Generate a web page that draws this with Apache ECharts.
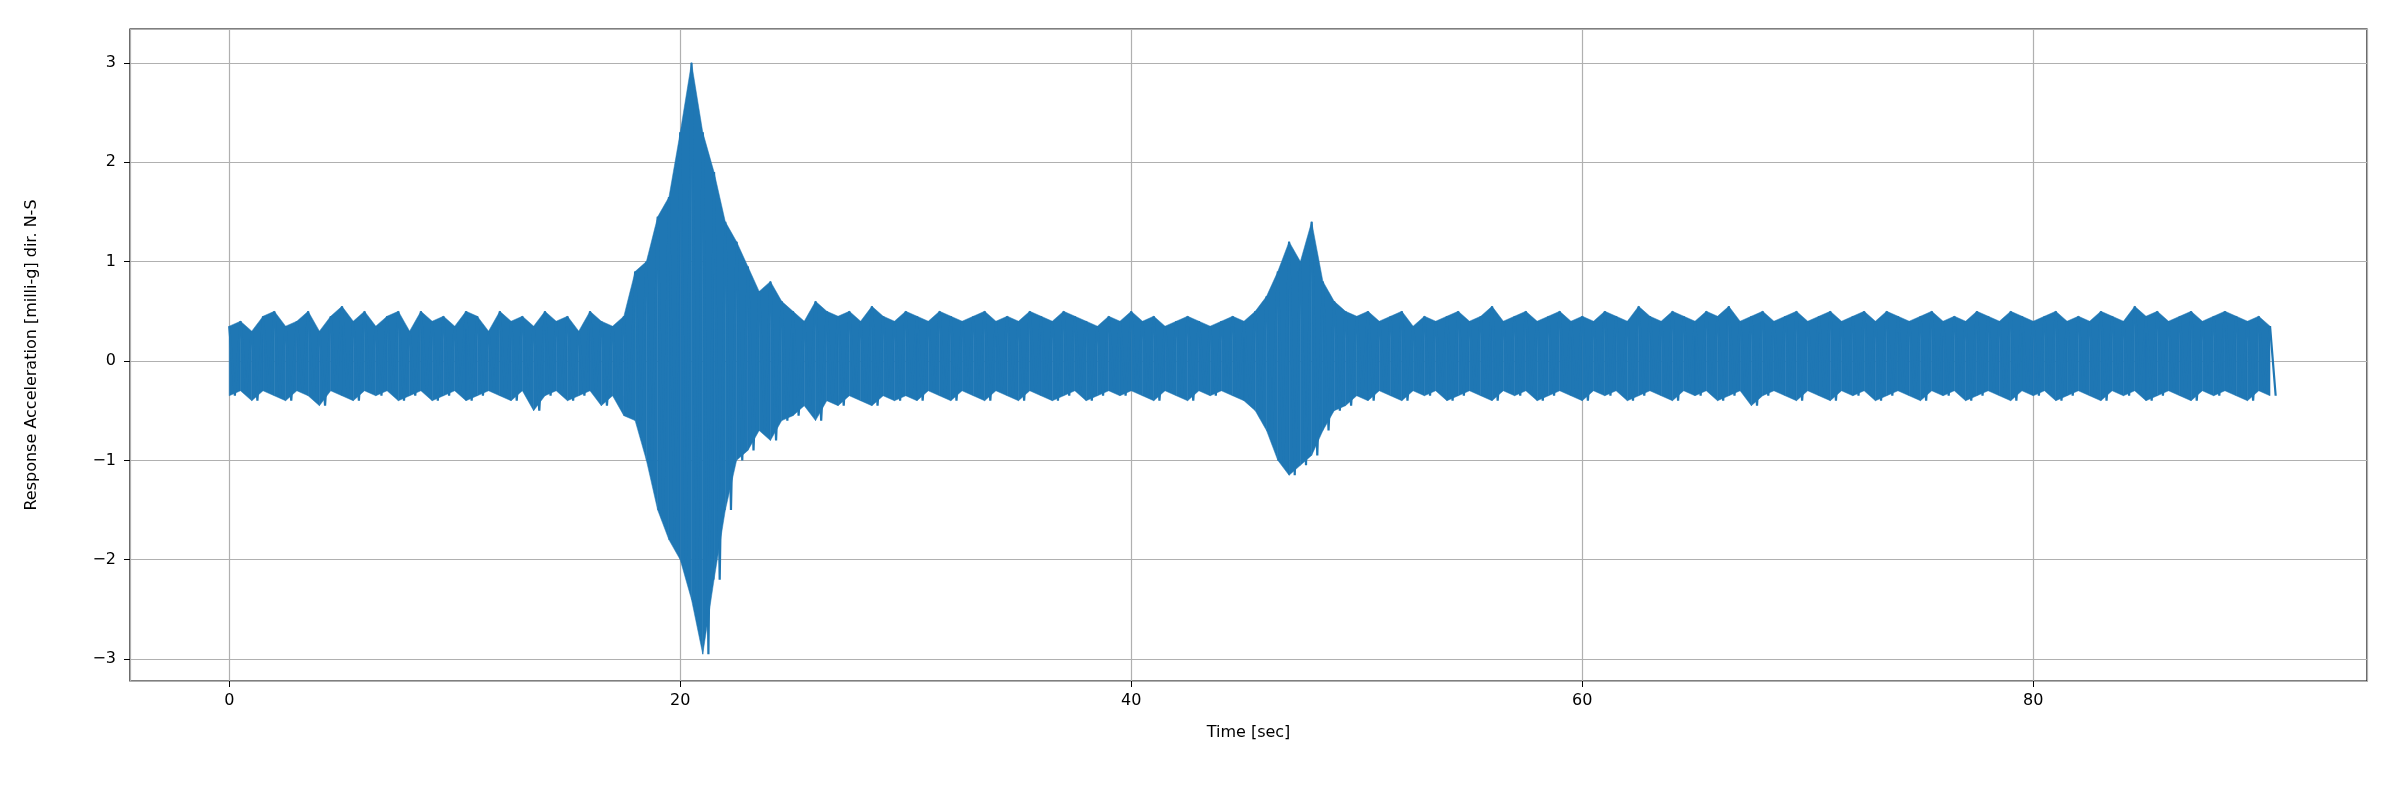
<!DOCTYPE html>
<html>
<head>
<meta charset="utf-8">
<script src="https://cdn.jsdelivr.net/npm/echarts@6/dist/echarts.min.js"></script>
<style>html,body{margin:0;padding:0;background:#fff}#main{width:2400px;height:800px}</style>
</head>
<body>
<div id="main"></div>
<script>
// envelope peaks, one pair every half second (0 .. 90.5 s)
var step = 0.5;
var peakTop = [
	0.35,0.4,0.3,0.45,0.5,0.35,0.4,0.5,0.3,0.45,
	0.55,0.4,0.5,0.35,0.45,0.5,0.3,0.5,0.4,0.45,
	0.35,0.5,0.45,0.3,0.5,0.4,0.45,0.35,0.5,0.4,
	0.45,0.3,0.5,0.4,0.35,0.45,0.9,1.0,1.45,1.65,
	2.3,3.0,2.3,1.9,1.4,1.2,0.95,0.7,0.8,0.6,
	0.5,0.4,0.6,0.5,0.45,0.5,0.4,0.55,0.45,0.4,
	0.5,0.45,0.4,0.5,0.45,0.4,0.45,0.5,0.4,0.45,
	0.4,0.5,0.45,0.4,0.5,0.45,0.4,0.35,0.45,0.4,
	0.5,0.4,0.45,0.35,0.4,0.45,0.4,0.35,0.4,0.45,
	0.4,0.5,0.65,0.9,1.2,1.0,1.4,0.8,0.6,0.5,
	0.45,0.5,0.4,0.45,0.5,0.35,0.45,0.4,0.45,0.5,
	0.4,0.45,0.55,0.4,0.45,0.5,0.4,0.45,0.5,0.4,
	0.45,0.4,0.5,0.45,0.4,0.55,0.45,0.4,0.5,0.45,
	0.4,0.5,0.45,0.55,0.4,0.45,0.5,0.4,0.45,0.5,
	0.4,0.45,0.5,0.4,0.45,0.5,0.4,0.5,0.45,0.4,
	0.45,0.5,0.4,0.45,0.4,0.5,0.45,0.4,0.5,0.45,
	0.4,0.45,0.5,0.4,0.45,0.4,0.5,0.45,0.4,0.55,
	0.45,0.5,0.4,0.45,0.5,0.4,0.45,0.5,0.45,0.4,
	0.45,0.35
];
var peakBottom = [
	-0.35,-0.3,-0.4,-0.3,-0.35,-0.4,-0.3,-0.35,-0.45,-0.3,
	-0.35,-0.4,-0.3,-0.35,-0.3,-0.4,-0.35,-0.3,-0.4,-0.35,
	-0.3,-0.4,-0.35,-0.3,-0.35,-0.4,-0.3,-0.5,-0.35,-0.3,
	-0.4,-0.35,-0.3,-0.45,-0.35,-0.55,-0.6,-1.0,-1.5,-1.8,
	-2.0,-2.4,-2.95,-2.2,-1.5,-1.0,-0.9,-0.7,-0.8,-0.6,
	-0.55,-0.45,-0.6,-0.4,-0.45,-0.35,-0.4,-0.45,-0.35,-0.4,
	-0.35,-0.4,-0.3,-0.35,-0.4,-0.3,-0.35,-0.4,-0.3,-0.35,
	-0.4,-0.3,-0.35,-0.4,-0.35,-0.3,-0.4,-0.35,-0.3,-0.35,
	-0.3,-0.35,-0.4,-0.3,-0.35,-0.4,-0.3,-0.35,-0.3,-0.35,
	-0.4,-0.5,-0.7,-1.0,-1.15,-1.05,-0.95,-0.7,-0.5,-0.45,
	-0.35,-0.4,-0.3,-0.35,-0.4,-0.3,-0.35,-0.3,-0.4,-0.35,
	-0.3,-0.35,-0.4,-0.3,-0.35,-0.3,-0.4,-0.35,-0.3,-0.35,
	-0.4,-0.3,-0.35,-0.3,-0.4,-0.35,-0.3,-0.35,-0.4,-0.3,
	-0.35,-0.3,-0.4,-0.35,-0.3,-0.45,-0.35,-0.3,-0.35,-0.4,
	-0.3,-0.35,-0.4,-0.3,-0.35,-0.3,-0.4,-0.35,-0.3,-0.35,
	-0.4,-0.3,-0.35,-0.3,-0.4,-0.35,-0.3,-0.35,-0.4,-0.3,
	-0.35,-0.3,-0.4,-0.35,-0.3,-0.35,-0.4,-0.3,-0.35,-0.3,
	-0.4,-0.35,-0.3,-0.35,-0.4,-0.3,-0.35,-0.3,-0.35,-0.4,
	-0.3,-0.35
];

var data = [];
var segs = [];
for (var i = 0; i < peakTop.length; i++){
	var t = i * step;
	data.push([t, peakTop[i]]);
	data.push([t + step / 2, peakBottom[i]]);
	if (i < peakTop.length - 1) {
		segs.push([t, peakTop[i], peakBottom[i], t + step, peakTop[i + 1], peakBottom[i + 1]]);
	}
}

function fmt(v){
	if (Math.abs(v - Math.round(v)) > 1e-6) return '';
	return v < 0 ? '\u2212' + Math.abs(v) : String(v);
}
function fmtX(v){
	if (Math.abs(v % 20) > 1e-6) return '';
	return String(v);
}

// fill the band between the envelope peaks, segment by segment
function renderBand(params, api){
	var a = api.coord([api.value(0), api.value(1)]);
	var b = api.coord([api.value(3), api.value(4)]);
	var c = api.coord([api.value(3), api.value(5)]);
	var d = api.coord([api.value(0), api.value(2)]);
	return {
		type: 'polygon',
		shape: {points: [a, b, c, d]},
		style: {fill: '#1f77b4', stroke: '#1f77b4', lineWidth: 0.5}
	};
}

var myChart = echarts.init(document.getElementById('main'));
var option = {
	animation: false,
	backgroundColor: '#fff',
	grid: {
		left: 130, right: 33, top: 29, bottom: 119,
		show: true, borderColor: '#000', borderWidth: 1.2
	},
	xAxis: {
		type: 'value', min: -4.4, max: 94.8,
		name: 'Time [sec]', nameLocation: 'middle', nameGap: 44,
		nameTextStyle: {fontFamily: 'DejaVu Sans', fontSize: 16, color: '#000'},
		axisLine: {show: false, onZero: false},
		axisTick: {show: true, length: 6, lineStyle: {color: '#000'}},
		axisLabel: {formatter: fmtX, fontFamily: 'DejaVu Sans', fontSize: 16, color: '#000', margin: 12, showMinLabel: false, showMaxLabel: false},
		splitLine: {show: true, lineStyle: {color: '#b0b0b0', width: 1.2}}
	},
	yAxis: {
		type: 'value', min: -3.22, max: 3.34,
		name: 'Response Acceleration [milli-g] dir. N-S', nameLocation: 'middle', nameGap: 90,
		nameTextStyle: {fontFamily: 'DejaVu Sans', fontSize: 16, color: '#000'},
		axisLine: {show: false, onZero: false},
		axisTick: {show: true, length: 6, lineStyle: {color: '#000'}},
		axisLabel: {formatter: fmt, fontFamily: 'DejaVu Sans', fontSize: 16, color: '#000', margin: 14, showMinLabel: false, showMaxLabel: false},
		splitLine: {show: true, lineStyle: {color: '#b0b0b0', width: 1.2}}
	},
	series: [{
		type: 'custom',
		renderItem: renderBand,
		data: segs,
		encode: {x: [0, 3], y: [1, 2, 4, 5]},
		silent: true,
		z: 2
	}, {
		type: 'line',
		data: data,
		showSymbol: false,
		lineStyle: {color: '#1f77b4', width: 2.2},
		z: 3
	}]
};
myChart.setOption(option);
</script>
</body>
</html>
